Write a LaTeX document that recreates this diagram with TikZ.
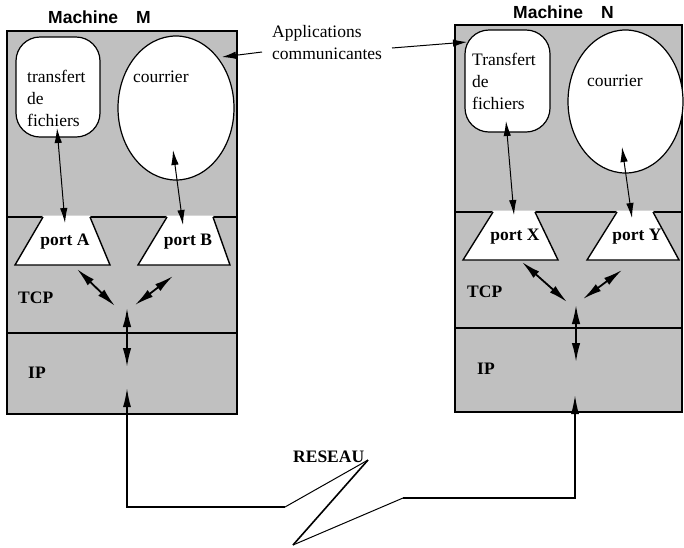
\documentclass[tikz,border=0pt]{standalone}
\usepackage{fontspec}
\setmainfont{Liberation Serif}
\newfontfamily\headfont{Liberation Sans}
\usetikzlibrary{arrows.meta,shapes.geometric}
\definecolor{layergray}{HTML}{C0C0C0}
\newcommand\txtsize{\fontsize{17.5}{21.8}\selectfont}
\tikzset{
  machine/.style={draw, line width=1.8pt, fill=layergray},
  sep/.style={line width=1.4pt},
  app/.style={draw, line width=1.2pt, fill=white, rounded corners=24pt, inner sep=0pt},
  mail/.style={draw, line width=1.2pt, fill=white, ellipse, inner sep=0pt},
  portbox/.style={fill=white},
  portedge/.style={line width=1.4pt},
  lbl/.style={inner sep=0pt, anchor=base west, font=\txtsize},
  blbl/.style={inner sep=0pt, anchor=base, font=\txtsize\bfseries},
  ttl/.style={inner sep=0pt, anchor=base west, font=\headfont\fontsize{17.5}{20}\selectfont\bfseries},
  thin arrow/.style={line width=1pt, {Latex[length=15pt,width=7.5pt]}-{Latex[length=15pt,width=7.5pt]}},
  thick arrow/.style={line width=1.8pt, {Latex[length=19pt,width=8.5pt]}-{Latex[length=19pt,width=8.5pt]}},
  one arrow/.style={line width=1pt, -{Latex[length=14pt,width=7.5pt]}},
  net tip/.style={line width=1.6pt},
}
\begin{document}
\begin{tikzpicture}[x=1pt,y=-1pt]
\useasboundingbox (0,0) rectangle (684,547);

% ---------- Machine M ----------
\node[ttl] (titleM) at (48,23) {Machine\hspace{18pt}M};
\draw[machine] (7,31) rectangle (237,414);
\coordinate (mL1) at (7,217);  \coordinate (mR1) at (237,217);
\coordinate (mL2) at (7,333);  \coordinate (mR2) at (237,333);
\draw[sep] (mL1) -- (mR1);
\draw[sep] (mL2) -- (mR2);

\node[app, minimum width=84pt, minimum height=100pt] (ftpM) at (58,87) {};
\node[mail, minimum width=116pt, minimum height=144pt] (mailM) at (176,108) {};
\node[lbl, anchor=north west, align=left] (ftpMtxt) at (27,70) {transfert\\de\\fichiers};
\node[lbl] (mailMtxt) at (133,82) {courrier};

% ports A and B
\fill[portbox] (43,215.5) -- (90,215.5) -- (110,265) -- (15,265) -- cycle;
\draw[portedge] (90,217) -- (110,265) -- (15,265) -- (43,217);
\fill[portbox] (167,215.5) -- (213,215.5) -- (230,265) -- (138,265) -- cycle;
\draw[portedge] (213,217) -- (230,265) -- (138,265) -- (167,217);
\node[blbl] (portA) at (65,245) {port A};
\node[blbl] (portB) at (188,245) {port B};

\node[lbl, font=\txtsize\bfseries] (tcpM) at (18,303) {TCP};
\node[lbl, font=\txtsize\bfseries] (ipM) at (28,378) {IP};

\coordinate (mF1) at (57,128);  \coordinate (mF2) at (65,223);
\coordinate (mC1) at (173,150); \coordinate (mC2) at (183,225);
\draw[thin arrow] (mF1) -- (mF2);
\draw[thin arrow] (mC1) -- (mC2);

\coordinate (mA1) at (77,269);  \coordinate (mA2) at (115,306);
\coordinate (mB1) at (173,276); \coordinate (mB2) at (135,305);
\coordinate (mT1) at (127,308); \coordinate (mT2) at (127,367);
\draw[thick arrow] (mA1) -- (mA2);
\draw[thick arrow] (mB1) -- (mB2);
\draw[thick arrow] (mT1) -- (mT2);

% ---------- Machine N ----------
\node[ttl] (titleN) at (513,18) {Machine\hspace{18pt}N};
\draw[machine] (455,25) rectangle (682,412);
\coordinate (nL1) at (455,212);  \coordinate (nR1) at (682,212);
\coordinate (nL2) at (455,328);  \coordinate (nR2) at (682,328);
\draw[sep] (nL1) -- (nR1);
\draw[sep] (nL2) -- (nR2);

\node[app, minimum width=85pt, minimum height=102pt] (ftpN) at (507.5,81) {};
\node[mail, minimum width=115pt, minimum height=143pt] (mailN) at (625.5,101.5) {};
\node[lbl, anchor=north west, align=left] (ftpNtxt) at (472,53) {Transfert\\de\\fichiers};
\node[lbl] (mailNtxt) at (587,86) {courrier};

% ports X and Y
\fill[portbox] (493,210.5) -- (535,210.5) -- (558,260) -- (463,260) -- cycle;
\draw[portedge] (535,212) -- (558,260) -- (463,260) -- (493,212);
\fill[portbox] (617,210.5) -- (653,210.5) -- (679,260) -- (587,260) -- cycle;
\draw[portedge] (653,212) -- (679,260) -- (587,260) -- (617,212);
\node[blbl] (portX) at (515,240) {port X};
\node[blbl] (portY) at (637,240) {port Y};

\node[lbl, font=\txtsize\bfseries] (tcpN) at (467,297) {TCP};
\node[lbl, font=\txtsize\bfseries] (ipN) at (477,374) {IP};

\coordinate (nF1) at (506,121); \coordinate (nF2) at (514,215);
\coordinate (nC1) at (622,147); \coordinate (nC2) at (632,218);
\draw[thin arrow] (nF1) -- (nF2);
\draw[thin arrow] (nC1) -- (nC2);

\coordinate (nX1) at (522,262); \coordinate (nX2) at (567,302);
\coordinate (nY1) at (622,270); \coordinate (nY2) at (583,299);
\coordinate (nT1) at (576,305); \coordinate (nT2) at (576,362);
\draw[thick arrow] (nX1) -- (nX2);
\draw[thick arrow] (nY1) -- (nY2);
\draw[thick arrow] (nT1) -- (nT2);

% ---------- Applications label ----------
\node[lbl, anchor=north west, align=left] (apps) at (272,25) {Applications\\communicantes};
\coordinate (appL) at (262,52);  \coordinate (appLtip) at (222,57);
\coordinate (appR) at (392,48);  \coordinate (appRtip) at (467,42);
\draw[one arrow] (appL) -- (appLtip);
\draw[one arrow] (appR) -- (appRtip);

% ---------- network link ----------
\node[blbl, anchor=base west] (reseau) at (293,462) {RESEAU};
\coordinate (ipMout) at (127,388);
\coordinate (ipNout) at (575,395);
\coordinate (z1) at (285,507);
\coordinate (z2) at (368,460);
\coordinate (z3) at (293,545);
\coordinate (z4) at (403,498);
\draw[net tip, {Latex[length=19pt,width=8pt]}-] (ipMout) |- (z1);
\draw[line width=1pt] (z1) -- (z2);
\draw[line width=1.6pt] (z2) -- (z3);
\draw[line width=1pt] (z3) -- (z4);
\draw[net tip, -{Latex[length=19pt,width=8pt]}] (z4) -| (ipNout);
\end{tikzpicture}
\end{document}
